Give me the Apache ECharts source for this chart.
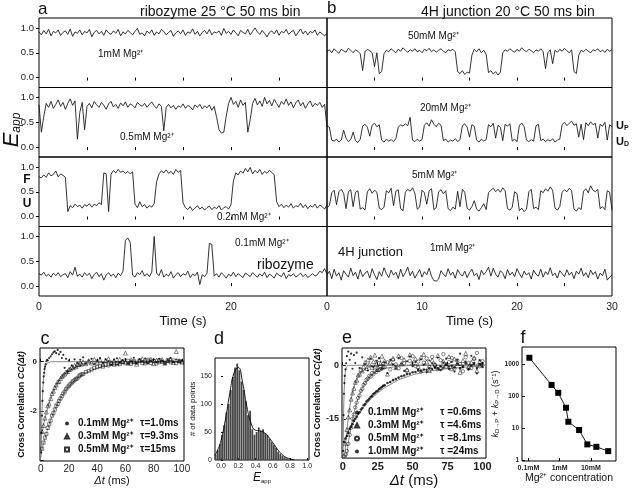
<!DOCTYPE html>
<html><head><meta charset="utf-8">
<script src="https://cdn.jsdelivr.net/npm/echarts@6/dist/echarts.min.js"></script>
<style>html,body{margin:0;padding:0;background:#fff}#c{width:632px;height:489px}</style>
</head><body><div id="c"></div>
<script>
const FONT = '"Liberation Sans", Arial, sans-serif';
const TRACE_DT = 0.25; // seconds per trace point

// ---- panel a: ribozyme traces (E_app) ----
const traceA_1mM = [0.92,0.86,0.95,0.88,0.97,0.84,0.93,0.90,0.96,0.85,0.91,0.94,0.87,0.98,0.83,0.92,0.89,0.96,0.86,0.93,
0.90,0.97,0.82,0.91,0.95,0.88,0.93,0.85,0.96,0.90,0.87,0.94,0.89,0.97,0.84,0.92,0.88,0.95,0.91,0.86,
0.93,0.99,0.87,0.90,0.84,0.94,0.89,0.96,0.85,0.92,0.88,0.97,0.93,0.86,0.91,0.95,0.83,0.90,0.94,0.88,
0.96,0.85,0.92,0.89,0.98,0.87,0.93,0.84,0.91,0.95,0.88,0.97,0.86,0.92,0.90,0.94,0.85,0.99,0.89,0.93,
0.87,0.96,0.90,0.84,0.95,0.91,0.88,0.97,0.86,0.93,1.00,0.92,0.87,0.95,0.89,0.82,0.91,0.94,0.88,0.96,
0.85,0.93,0.90,0.97,0.87,0.92,0.95,0.84,0.91,0.98,0.88,0.94,0.86,0.93,0.90,0.96,0.85,0.92,0.88,0.84,0.90];
const traceA_05mM = [0.85,0.30,0.62,0.88,0.80,0.92,0.78,0.86,0.95,0.82,0.90,0.76,0.88,0.97,0.84,0.93,0.16,0.70,0.90,0.35,
0.82,0.88,0.79,0.92,0.85,0.80,0.90,0.84,0.76,0.87,0.92,0.81,0.86,0.78,0.89,0.83,0.91,0.80,0.87,0.84,
0.79,0.90,0.85,0.82,0.88,0.80,0.86,0.91,0.83,0.78,0.87,0.82,0.33,0.80,0.86,0.79,0.84,0.76,0.83,0.80,
0.87,0.78,0.84,0.81,0.75,0.85,0.80,0.86,0.77,0.83,0.79,0.85,0.74,0.82,0.60,0.35,0.28,0.30,0.62,0.88,
1.00,0.86,0.92,0.80,0.95,0.84,0.90,0.30,0.55,0.88,0.98,0.85,0.93,0.82,1.00,0.87,0.94,0.83,0.96,0.88,
0.80,0.92,0.86,0.97,0.84,0.91,0.79,0.89,0.95,0.83,0.90,0.78,0.87,0.93,0.81,0.88,0.84,0.90,0.80,0.86,0.40];
const traceA_02mM = [0.80,0.78,0.84,0.79,0.88,0.82,0.85,0.92,0.80,0.86,0.83,0.79,0.10,0.22,0.18,0.25,0.20,0.23,0.17,0.24,
0.21,0.26,0.19,0.25,0.22,0.28,0.24,0.88,0.86,0.10,0.85,0.93,0.88,0.95,0.89,0.92,0.87,0.91,0.86,0.90,
0.25,0.18,0.30,0.20,0.24,0.17,0.22,0.19,0.26,0.70,0.86,0.92,0.88,0.94,0.87,0.91,0.85,0.95,0.89,0.93,
0.28,0.18,0.14,0.20,0.12,0.17,0.22,0.15,0.19,0.13,0.18,0.21,0.14,0.19,0.16,0.22,0.13,0.18,0.20,0.15,
0.24,0.72,0.88,0.84,0.92,0.87,0.97,0.90,0.99,0.86,0.93,0.88,0.95,0.85,0.91,0.87,0.93,0.89,0.84,0.30,
0.20,0.25,0.18,0.23,0.19,0.26,0.17,0.22,0.20,0.27,0.18,0.24,0.16,0.22,0.19,0.25,0.17,0.23,0.20,0.15,0.24];
const traceA_01mM = [0.25,0.22,0.28,0.20,0.24,0.18,0.26,0.21,0.27,0.19,0.23,0.25,0.17,0.29,0.22,0.38,0.20,0.24,0.18,0.27,
0.21,0.26,0.15,0.23,0.28,0.19,0.25,0.12,0.22,0.27,0.20,0.24,0.17,0.26,0.21,0.30,0.92,0.97,0.88,0.22,
0.18,0.27,0.23,0.31,0.20,0.25,0.19,0.28,1.00,0.26,0.21,0.33,0.18,0.24,0.20,0.29,0.16,0.23,0.27,0.19,
0.25,0.22,0.30,0.17,0.24,0.21,0.28,0.03,0.23,0.19,0.26,0.86,0.84,0.20,0.25,0.18,0.27,0.22,0.16,0.24,
0.20,0.28,0.19,0.25,0.21,0.17,0.26,0.23,0.19,0.27,0.22,0.18,0.25,0.20,0.28,0.17,0.24,0.21,0.16,0.26,
0.22,0.19,0.27,0.15,0.23,0.20,0.25,0.18,0.22,0.26,0.19,0.24,0.17,0.21,0.25,0.20,0.23,0.30,0.27,0.35,0.24];

// ---- panel b: 4H junction traces ----
const traceB_50mM = [0.52,0.56,0.50,0.58,0.53,0.49,0.57,0.54,0.51,0.59,0.55,0.50,0.56,0.53,0.48,
0.14,0.52,0.57,0.54,0.50,0.22,0.50,0.08,0.12,0.48,
0.55,0.52,0.58,0.54,0.50,0.57,0.53,0.60,0.55,0.51,0.56,0.53,0.58,0.52,0.55,0.50,0.57,0.54,0.59,0.52,0.56,0.51,0.55,0.58,0.53,0.50,0.56,0.54,0.57,0.52,
0.12,0.08,0.14,0.06,0.11,0.09,
0.45,0.57,0.52,0.58,0.50,0.55,0.47,
0.10,0.14,0.07,0.12,0.05,0.11,
0.50,0.56,0.53,0.58,0.54,0.51,0.57,0.53,0.60,0.55,0.52,0.57,0.54,0.50,0.56,0.53,0.58,0.52,
0.18,0.50,0.56,0.28,
0.55,0.51,0.57,0.53,0.59,0.54,0.50,0.56,
0.12,0.08,
0.45,0.55,0.52,0.57,0.53,0.50,0.56,0.54,0.58,0.52,0.55,0.51,0.57,0.53,0.56];
const traceB_20mM = [0.42,0.40,0.14,
0.12,0.16,0.10,0.14,0.34,0.18,0.11,0.15,0.30,0.13,0.09,0.16,
0.42,0.46,0.40,0.22,0.44,0.48,0.41,0.45,
0.14,0.10,0.16,0.12,0.15,0.11,0.17,
0.40,0.45,0.42,0.47,0.43,0.60,
0.14,0.11,0.16,0.12,0.15,
0.44,0.49,0.42,0.55,0.46,0.41,0.48,0.44,
0.13,0.16,0.10,0.14,0.12,0.17,0.11,0.15,
0.43,0.47,0.40,0.20,0.45,0.42,
0.14,0.10,0.16,0.12,0.15,
0.45,0.41,0.48,0.18,0.44,0.40,
0.13,0.46,0.42,0.47,0.12,0.16,0.11,0.44,0.48,0.41,
0.14,0.11,0.15,0.12,0.43,0.46,
0.13,0.16,0.11,0.15,0.12,0.17,0.10,0.14,0.16,
0.45,0.50,0.43,0.48,0.52,0.44,0.47,0.20,0.46,0.15,0.49,0.43,0.51,0.45,0.48,0.18,0.46,0.42,0.50,
0.14,0.45,0.41];
const traceB_5mM = [0.18,0.22,
0.48,0.53,0.24,0.50,0.55,0.47,0.16,
0.50,0.54,0.20,0.49,0.52,0.15,0.18,0.13,
0.50,0.56,0.47,0.53,0.49,0.17,0.14,0.19,
0.52,0.48,0.57,0.22,0.51,0.54,0.16,0.12,
0.49,0.55,0.51,0.58,0.47,0.15,0.19,
0.53,0.48,0.25,0.52,0.56,0.14,0.18,
0.50,0.54,0.46,0.52,0.16,0.12,0.19,0.15,
0.51,0.20,0.55,0.49,
0.17,0.13,0.20,0.32,0.15,0.11,0.18,0.26,0.14,
0.48,0.53,0.57,0.50,0.55,0.49,0.58,0.52,
0.16,0.13,0.19,0.50,0.46,0.12,0.17,0.10,0.15,
0.50,0.55,0.16,0.19,0.14,
0.52,0.48,0.56,0.51,0.60,0.53,0.17,0.13,0.20,
0.49,0.54,0.50,0.57,0.52,0.15,0.11,0.18,0.14,
0.51,0.56,0.48,0.62,0.53,0.50,0.55,0.16,0.20,0.14,
0.52,0.49,0.13];
const traceB_1mM = [0.22,0.30,0.15,0.34,0.20,0.27,0.12,0.31,0.24,0.18,0.36,0.21,0.28,0.14,0.33,0.19,0.26,0.30,0.16,0.35,
0.23,0.13,0.29,0.20,0.37,0.25,0.17,0.32,0.22,0.28,0.15,0.34,0.19,0.27,0.38,0.21,0.30,0.16,0.25,0.33,
0.18,0.29,0.23,0.36,0.20,0.11,0.10,0.14,0.31,0.24,0.19,0.35,0.22,0.28,0.16,0.33,0.25,0.20,0.30,0.17,
0.27,0.34,0.21,0.26,0.13,0.32,0.23,0.29,0.38,0.20,0.36,0.24,0.18,0.31,0.26,0.15,0.33,0.22,0.28,0.19,
0.35,0.25,0.17,0.30,0.22,0.27,0.14,0.32,0.24,0.20,0.34,0.18,0.29,0.23,0.37,0.21,0.26,0.16,0.31,0.25,
0.19,0.33,0.22,0.28,0.15,0.30,0.24,0.36,0.20,0.27,0.17,0.32,0.23,0.29,0.14,0.26,0.21,0.34,0.12,0.18,0.22];

// ---- panel c: cross-correlation, ribozyme ----
const lagC01 = [0.3,0.6,0.9,1.2,1.5,1.8,2.1,2.4,2.7,3,3.5,4,4.5,5,6,7,8,9,10,11,12,13,14,15,16,17,18,19,20,22,24,26,28,30,32,34,36,38,40,42,44,46,48,50,52,54,56,58,60,62,64,66,68,70,72,74,76,78,80,82,84,86,88,90,92,94,96,98,100];
const ccC01 = [-3.7,-2.9,-2.2,-1.6,-1.2,-0.85,-0.6,-0.45,-0.3,-0.2,-0.1,0.02,0.08,0.05,0.15,0.22,0.3,0.38,0.42,0.35,0.48,0.3,0.4,0.15,0.28,-0.25,0.12,-0.4,0.05,
-0.15,0.1,-0.05,0.08,0.18,-0.08,0.05,0.12,-0.1,0.06,0.15,-0.05,0.1,0.02,-0.12,0.08,0.14,-0.04,0.06,0.11,-0.09,0.03,0.16,-0.06,0.09,0.02,0.13,-0.07,0.05,0.1,-0.03,0.12,0.04,-0.08,0.07,0.15,-0.02,0.09,0.03,0.06];
const lagGrid = [1,2,3,4,5,6,7,8,9,10,11,12,13,14,15,16,17,18,19,20,21,22,23,24,25,26,27,28,29,30,32,34,36,38,40,42,44,46,48,50,52,54,56,58,60,62,64,66,68,70,72,74,76,78,80,82,84,86,88,90,92,94,96,98,100];
const ccC03 = [-2.85,-2.6,-2.3,-2.05,-1.8,-1.72,-1.5,-1.3,-1.2,-1.05,-0.95,-0.82,-0.8,-0.68,-0.6,-0.55,-0.5,-0.42,-0.4,-0.32,-0.3,-0.22,-0.25,-0.15,-0.2,-0.1,-0.12,-0.05,-0.1,0.0,
-0.08,0.05,-0.05,0.1,-0.02,0.08,-0.1,0.05,0.12,-0.04,0.06,-0.08,0.1,0.02,0.35,-0.06,0.08,0.0,-0.1,0.07,0.12,-0.05,0.04,0.1,-0.08,0.06,0.0,0.09,-0.06,0.05,0.11,-0.03,0.42,0.04,-0.02];
const ccC05 = [-3.55,-3.3,-3.1,-2.95,-2.7,-2.55,-2.4,-2.2,-2.1,-1.95,-1.8,-1.72,-1.6,-1.5,-1.4,-1.3,-1.22,-1.12,-1.05,-0.98,-0.92,-0.85,-0.8,-0.75,-0.7,-0.68,-0.6,-0.55,-0.52,-0.5,
-0.42,-0.38,-0.32,-0.25,-0.22,-0.18,-0.2,-0.12,-0.15,-0.08,-0.12,-0.05,-0.1,0.0,-0.06,0.04,-0.08,0.02,-0.04,0.05,-0.06,0.0,0.08,-0.05,0.03,-0.07,0.06,0.0,-0.04,0.07,-0.02,0.05,-0.06,0.03,0.0];
const fitC01T = [0.25,0.5,1,1.5,2,3,4,5,7,100];
const fitC01V = [-3.9,-3.03,-1.84,-1.12,-0.68,-0.25,-0.09,-0.03,0,0];
const fitC03T = [0,2,4,6,8,10,12,14,16,18,20,25,30,35,40,50,60,100];
const fitC03V = [-3.2,-2.58,-2.08,-1.68,-1.35,-1.09,-0.88,-0.71,-0.57,-0.46,-0.37,-0.22,-0.13,-0.07,-0.04,-0.015,0,0];
const fitC05T = [0,2,4,6,8,10,12,14,16,18,20,25,30,35,40,45,50,60,70,80,100];
const fitC05V = [-3.8,-3.33,-2.92,-2.55,-2.23,-1.95,-1.71,-1.49,-1.31,-1.14,-1.0,-0.72,-0.51,-0.37,-0.26,-0.19,-0.14,-0.07,-0.04,-0.02,-0.005];

// ---- panel d: E_app histogram ----
const histE = [-0.0625,-0.0375,-0.0125,0.0125,0.0375,0.0625,0.0875,0.1125,0.1375,0.1625,0.1875,0.2125,0.2375,0.2625,0.2875,0.3125,0.3375,0.3625,0.3875,0.4125,0.4375,0.4625,0.4875,0.5125,0.5375,0.5625,0.5875,0.6125,0.6375,0.6625,0.6875,0.7125,0.7375,0.7625,0.7875];
const histN = [10,18,28,45,62,85,100,125,148,165,172,160,140,125,105,80,88,55,45,50,58,52,55,48,45,38,32,27,22,15,11,8,5,3,1];
const fitDE = [-0.075,-0.05,0,0.05,0.1,0.15,0.2,0.25,0.3,0.35,0.4,0.45,0.5,0.55,0.6,0.65,0.7,0.75,0.8,0.85];
const fitDN = [8,14,35,72,118,155,165,138,95,65,53,52,49,41,31,20,11,5,2,0];

// ---- panel e: cross-correlation, 4H junction ----
const lagE01 = [0.3,0.6,0.9,1.2,1.5,2,2.5,3,4,5,6,7,8,9,10,12,14,16,18,20,22,24,26,28,30,32,34,36,38,40,42,44,46,48,50,52,54,56,58,60,62,64,66,68,70,72,74,76,78,80,82,84,86,88,90,92,94,96,98,100];
const ccE01 = [-24,-14,-8,-5,-3,-1.2,0.5,2.5,3.8,1.5,3.2,-1,2.8,0.6,3.5,
-0.8,2.2,0.3,-1.5,1.8,-0.5,1.2,2.0,-1.0,0.8,-2.2,1.5,0.2,-0.9,1.9,0.4,-1.6,1.1,2.4,-0.3,0.9,-1.2,1.6,0.1,-2.0,1.3,0.5,-0.7,2.1,-1.4,0.7,1.8,-0.4,0.9,-1.8,1.5,3.2,-0.6,1.0,-1.1,2.6,0.3,-2.3,1.4,0.2];
const ccE03 = [-27,-22,-18,-14.5,-12.5,-9.5,-7.8,-6.5,-4.8,-4.2,-2.8,-2.5,-1.2,-1.6,-0.4,0.8,-0.9,1.5,0.2,2.2,-0.6,1.0,2.8,0.3,-1.2,1.6,0.5,2.5,-0.3,1.2,
-2.5,0.8,1.9,-0.7,2.6,0.4,1.5,-1.3,2.9,0.6,1.8,-0.4,2.2,3.0,0.9,-1.5,1.4,0.2,2.7,-0.8,1.1,0.3,2.4,-1.0,1.7,0.5,-2.0,1.3,3.3,-0.5,0.8,2.0,-1.6,1.0,0.4];
const ccE05 = [-25.5,-25,-24,-22,-19.5,-17.5,-15,-13.8,-11.8,-10.5,-9.2,-8.5,-7.2,-6.6,-5.5,-5.0,-4.1,-3.8,-3.0,-3.2,-2.2,-2.5,-1.5,-1.9,-0.8,-1.4,-0.3,-1.0,0.4,-0.6,
0.8,-1.2,1.5,0.2,-0.9,2.0,0.5,-1.5,1.2,2.5,-0.2,1.0,-1.8,0.7,1.9,-0.6,2.3,0.1,-1.1,1.4,3.1,-0.4,0.9,2.0,-0.9,1.3,0.3,-1.7,2.2,0.6,-0.8,1.8,3.4,-0.3,1.1];
const ccE10 = [-21.5,-20.5,-19.8,-18.9,-17.8,-17.2,-16.5,-15.6,-15.0,-14.4,-13.6,-13.2,-12.4,-12.0,-11.2,-10.9,-10.2,-9.8,-9.4,-8.9,-8.6,-8.1,-7.8,-7.4,-7.2,-6.7,-6.5,-6.1,-5.8,-5.6,
-5.0,-4.7,-4.2,-3.9,-3.5,-3.1,-2.9,-2.5,-2.4,-2.0,-1.9,-1.5,-1.6,-1.2,-1.3,-0.8,-1.1,-0.6,-0.9,-0.3,-0.7,0.2,-1.0,-0.2,-0.6,0.4,-0.9,-0.3,0.5,-1.2,-0.1,0.6,-0.8,0.3,-0.5];
const fitE01T = [0.2,0.4,0.6,0.8,1,1.5,2,2.5,3,4,5,100];
const fitE01V = [-28.7,-20.5,-14.7,-10.5,-7.6,-3.3,-1.4,-0.6,-0.27,-0.05,0,0];
const fitE03T = [0.5,1,2,3,4,5,6,8,10,12,15,20,25,30,100];
const fitE03V = [-31.4,-28.2,-22.7,-18.3,-14.7,-11.8,-9.5,-6.2,-4.0,-2.6,-1.35,-0.45,-0.15,-0.05,0];
const fitE05T = [1,2,3,4,5,6,8,10,12,14,16,20,25,30,40,50,100];
const fitE05V = [-31.8,-28.1,-24.9,-21.9,-19.4,-17.1,-13.4,-10.5,-8.2,-6.4,-5.0,-3.0,-1.6,-0.9,-0.26,-0.07,0];
const fitE10T = [0,5,10,15,20,25,30,40,50,60,70,80,90,100];
const fitE10V = [-22,-17.8,-14.5,-11.8,-9.5,-7.8,-6.3,-4.1,-2.7,-1.8,-1.2,-0.8,-0.5,-0.3];

// ---- panel f: rate vs Mg2+ ----
const mgConc = [0.107,0.55,0.9,1.6,1.9,4.2,7.7,15,36];
const kSum = [1650,230,130,44,16,8.8,3.1,2.6,1.9];

// ---------- build ----------
const chart = echarts.init(document.getElementById('c'), null, {renderer: 'canvas'});
const grids = [], xAxes = [], yAxes = [], series = [];
function addGrid(g) {
  grids.push(Object.assign({show: true, borderColor: '#000', borderWidth: 1, backgroundColor: 'transparent'}, g));
  return grids.length - 1;
}
const noLine = {show: false};
const labelBase = {color: '#222', fontFamily: FONT};
const zip = (xs, ys) => xs.map((x, i) => [x, ys[i]]);
const lineS = (gi, data, extra) => Object.assign({type: 'line', xAxisIndex: gi, yAxisIndex: gi, data, showSymbol: false, symbol: 'none', silent: true,
  lineStyle: {width: 0.9, color: '#111'}}, extra || {});
const hollow = {color: 'rgba(255,255,255,0)', borderColor: '#000', borderWidth: 0.6};
const solid = {color: '#000'};
const scat = (name, gi, data, symbol, size, style) => ({type: 'scatter', name, xAxisIndex: gi, yAxisIndex: gi, data, symbol, symbolSize: size, itemStyle: style, silent: true, z: 3});

const rowTops = [18, 87.5, 157, 226.5], rowH = 69.5;
const aTraces = [traceA_1mM, traceA_05mM, traceA_02mM, traceA_01mM];
const bTraces = [traceB_50mM, traceB_20mM, traceB_5mM, traceB_1mM];
[aTraces, bTraces].forEach((traces, p) => {
  traces.forEach((tr, r) => {
    const gi = addGrid({left: p ? 327 : 39, top: rowTops[r], width: p ? 285 : 288, height: rowH});
    const bottom = r === 3;
    xAxes.push({gridIndex: gi, type: 'value', min: 0, max: 30, axisLine: noLine, splitLine: noLine,
      axisTick: {show: true, inside: bottom, length: 3, lineStyle: {color: '#000'},
        customValues: bottom ? (p ? [5, 10, 15, 20, 25] : [10, 20]) : [5, 10, 15, 20, 25]},
      axisLabel: Object.assign({show: bottom, customValues: p ? [0, 10, 20, 30] : [0, 20], fontSize: 10.5, margin: 6}, labelBase),
      name: bottom ? 'Time (s)' : '', nameLocation: 'middle', nameGap: 19,
      nameTextStyle: {fontSize: 13, color: '#111', fontFamily: FONT}});
    yAxes.push({gridIndex: gi, type: 'value', min: -0.2, max: 1.2, axisLine: noLine, splitLine: noLine,
      axisTick: {show: !p, inside: false, length: 3, lineStyle: {color: '#000'}, customValues: [0, 0.5, 1]},
      axisLabel: Object.assign({show: !p, customValues: [0, 0.5, 1], formatter: v => v.toFixed(1), fontSize: 9.5, margin: 5}, labelBase)});
    series.push(lineS(gi, tr.map((v, i) => [i * TRACE_DT, v]), {lineStyle: {width: 0.85, color: '#111'}}));
  });
});

// panel c
const gc = addGrid({left: 40, top: 348, width: 144, height: 113});
xAxes.push({gridIndex: gc, type: 'value', min: -0.5, max: 101.5, axisLine: noLine, splitLine: noLine,
  axisTick: {inside: true, length: 3, customValues: [0, 20, 40, 60, 80, 100], lineStyle: {color: '#000'}},
  axisLabel: Object.assign({customValues: [0, 20, 40, 60, 80, 100], fontSize: 10, margin: 3}, labelBase),
  name: '{i|Δt} (ms)', nameLocation: 'middle', nameGap: 14,
  nameTextStyle: {fontSize: 11, fontFamily: FONT, color: '#111', rich: {i: {fontSize: 11, fontStyle: 'italic', fontFamily: FONT}}}});
yAxes.push({gridIndex: gc, type: 'value', min: -4.05, max: 0.56, axisLine: noLine, splitLine: noLine,
  axisTick: {inside: true, length: 3, customValues: [0, -2, -4], lineStyle: {color: '#000'}},
  axisLabel: Object.assign({customValues: [0, -2], fontSize: 8, fontWeight: 'bold', margin: 3}, labelBase),
  name: '{b|Cross Correlation }{i|CC(Δt)}', nameLocation: 'middle', nameGap: 13,
  nameTextStyle: {fontSize: 9, fontFamily: FONT, color: '#111', rich: {b: {fontSize: 9, fontWeight: 'bold', fontFamily: FONT}, i: {fontSize: 9, fontWeight: 'bold', fontStyle: 'italic', fontFamily: FONT}}}});
const fitGray = {lineStyle: {width: 1, color: '#888'}, z: 1};
series.push(lineS(gc, zip(fitC01T, fitC01V), fitGray));
series.push(lineS(gc, zip(fitC03T, fitC03V), fitGray));
series.push(lineS(gc, zip(fitC05T, fitC05V), fitGray));
series.push(scat('c01', gc, zip(lagC01, ccC01), 'circle', 2.2, solid));
series.push(scat('c03', gc, zip(lagGrid, ccC03), 'triangle', 4, hollow));
series.push(scat('c05', gc, zip(lagGrid, ccC05), 'rect', 3.2, hollow));

// panel d
const gd = addGrid({left: 215, top: 358, width: 94, height: 102});
xAxes.push({gridIndex: gd, type: 'value', min: -0.07, max: 1.02, axisLine: noLine, splitLine: noLine,
  axisTick: {inside: true, length: 2, customValues: [0, 0.2, 0.4, 0.6, 0.8, 1.0], lineStyle: {color: '#000'}},
  axisLabel: Object.assign({customValues: [0, 0.2, 0.4, 0.6, 0.8, 1.0], formatter: v => v.toFixed(1), fontSize: 7, margin: 3}, labelBase),
  name: '{e|E}{s|app}', nameLocation: 'middle', nameGap: 12,
  nameTextStyle: {fontFamily: FONT, rich: {e: {fontSize: 12, fontStyle: 'italic', fontFamily: FONT, color: '#111'}, s: {fontSize: 6, fontFamily: FONT, color: '#111', verticalAlign: 'bottom', padding: [6, 0, 0, 0]}}}});
yAxes.push({gridIndex: gd, type: 'value', min: 0, max: 182, axisLine: noLine, splitLine: noLine,
  axisTick: {inside: true, length: 2, customValues: [0, 50, 100, 150], lineStyle: {color: '#000'}},
  axisLabel: Object.assign({customValues: [0, 50, 100, 150], fontSize: 7, margin: 3}, labelBase),
  name: '# of data points', nameLocation: 'middle', nameGap: 16,
  nameTextStyle: {fontSize: 8, fontFamily: FONT, color: '#111'}});
series.push({type: 'bar', xAxisIndex: gd, yAxisIndex: gd, data: zip(histE, histN), barWidth: 1.8, itemStyle: {color: '#444'}, silent: true});
series.push(lineS(gd, zip(fitDE, fitDN), {smooth: true, lineStyle: {width: 0.9, color: '#000'}, z: 3}));

// panel e
const ge = addGrid({left: 342, top: 348, width: 144, height: 112});
xAxes.push({gridIndex: ge, type: 'value', min: -0.5, max: 102.5, axisLine: noLine, splitLine: noLine,
  axisTick: {inside: true, length: 3, customValues: [0, 25, 50, 75, 100], lineStyle: {color: '#000'}},
  axisLabel: Object.assign({customValues: [0, 25, 50, 75, 100], fontSize: 11, fontWeight: 'bold', margin: 3}, labelBase),
  name: '{i|Δt} (ms)', nameLocation: 'middle', nameGap: 14,
  nameTextStyle: {fontSize: 15, fontFamily: FONT, color: '#111', rich: {i: {fontSize: 15, fontStyle: 'italic', fontFamily: FONT}}}});
yAxes.push({gridIndex: ge, type: 'value', min: -26, max: 4.8, axisLine: noLine, splitLine: noLine,
  axisTick: {inside: true, length: 3, customValues: [0, -15], lineStyle: {color: '#000'}},
  axisLabel: Object.assign({customValues: [0, -15], fontSize: 9, fontWeight: 'bold', margin: 3}, labelBase),
  name: '{b|Cross Correlation, }{i|CC(Δt)}', nameLocation: 'middle', nameGap: 13,
  nameTextStyle: {fontSize: 9, fontFamily: FONT, color: '#111', rich: {b: {fontSize: 9, fontWeight: 'bold', fontFamily: FONT}, i: {fontSize: 9, fontWeight: 'bold', fontStyle: 'italic', fontFamily: FONT}}}});
series.push(lineS(ge, zip(fitE01T, fitE01V), fitGray));
series.push(lineS(ge, zip(fitE03T, fitE03V), fitGray));
series.push(lineS(ge, zip(fitE05T, fitE05V), fitGray));
series.push(lineS(ge, zip(fitE10T, fitE10V), fitGray));
series.push(scat('e01', ge, zip(lagE01, ccE01), 'circle', 2.2, solid));
series.push(scat('e03', ge, zip(lagGrid, ccE03), 'triangle', 4, hollow));
series.push(scat('e05', ge, zip(lagGrid, ccE05), 'circle', 3.4, hollow));
series.push(scat('e10', ge, zip(lagGrid, ccE10), 'circle', 2.6, solid));

// panel f
const gf = addGrid({left: 522, top: 347, width: 94, height: 114});
xAxes.push({gridIndex: gf, type: 'log', logBase: 10, min: 0.062, max: 64, axisLine: noLine, splitLine: noLine,
  axisTick: {inside: true, length: 3, customValues: [0.1, 1, 10], lineStyle: {color: '#000'}},
  axisLabel: Object.assign({customValues: [0.1, 1, 10], formatter: v => (v < 0.5 ? '0.1mM' : v < 5 ? '1mM' : '10mM'), fontSize: 7, fontWeight: 'bold', margin: 4}, labelBase),
  name: 'Mg²⁺ concentration', nameLocation: 'middle', nameGap: 12,
  nameTextStyle: {fontSize: 10.5, fontFamily: FONT, color: '#111'}});
yAxes.push({gridIndex: gf, type: 'log', logBase: 10, min: 0.93, max: 3600, axisLine: noLine, splitLine: noLine,
  axisTick: {inside: true, length: 3, customValues: [1, 10, 100, 1000], lineStyle: {color: '#000'}},
  axisLabel: Object.assign({customValues: [1, 10, 100, 1000], formatter: v => String(Math.round(v)), fontSize: 6.5, fontWeight: 'bold', margin: 3}, labelBase),
  name: '{k|k}{s|D→P} + {k|k}{s|P→D} (s⁻¹)', nameLocation: 'middle', nameGap: 17,
  nameTextStyle: {fontSize: 9, fontFamily: FONT, color: '#111',
    rich: {k: {fontSize: 9, fontStyle: 'italic', fontFamily: FONT}, s: {fontSize: 6, fontFamily: FONT, verticalAlign: 'bottom', padding: [5, 0, 0, 0]}}}});
series.push(lineS(gf, zip(mgConc, kSum), {showSymbol: true, symbol: 'rect', symbolSize: 6, itemStyle: {color: '#000'}, lineStyle: {width: 0.9, color: '#000'}}));

// legends
const legendText = {
  c01: ['0.1mM Mg²⁺', 'τ=1.0ms'], c03: ['0.3mM Mg²⁺', 'τ=9.3ms'], c05: ['0.5mM Mg²⁺', 'τ=15ms'],
  e01: ['0.1mM Mg²⁺', 'τ =0.6ms'], e03: ['0.3mM Mg²⁺', 'τ =4.6ms'], e05: ['0.5mM Mg²⁺', 'τ =8.1ms'], e10: ['1.0mM Mg²⁺', 'τ =24ms']
};
function legendCfg(data, left, top, w) {
  return {data, left, top, orient: 'vertical', itemWidth: 4, itemHeight: 4, itemGap: 0, selectedMode: false, padding: 0,
    formatter: n => `{a|${legendText[n][0]}}{b|${legendText[n][1]}}`,
    textStyle: {fontFamily: FONT, fontSize: 10, fontWeight: 'bold', color: '#111', lineHeight: 13,
      rich: {a: {width: w, fontSize: 10, fontWeight: 'bold', fontFamily: FONT, padding: [0, 0, 0, 4]}, b: {fontSize: 10, fontWeight: 'bold', fontFamily: FONT}}}};
}

// text helper
function txt(text, x, y, o) {
  o = o || {};
  return {type: 'text', x, y, rotation: o.rot || 0, silent: true, z: 100,
    style: {text, fill: '#111', fontSize: o.size || 10, fontFamily: FONT, fontWeight: o.weight || 'normal', fontStyle: o.style || 'normal',
      align: o.align || 'left', verticalAlign: o.va || 'middle', rich: o.rich}};
}
const graphics = [
  txt('a', 38, 9, {size: 17}),
  txt('ribozyme 25 °C 50 ms bin', 140, 12, {size: 14}),
  txt('b', 327, 8, {size: 17}),
  txt('4H junction 20 °C 50 ms bin', 421, 12, {size: 14}),
  txt('1mM Mg²⁺', 98, 54, {size: 10}),
  txt('0.5mM Mg²⁺', 120, 137, {size: 10}),
  txt('0.2mM Mg²⁺', 217, 217, {size: 10}),
  txt('0.1mM Mg²⁺', 235, 243, {size: 10}),
  txt('ribozyme', 257, 265, {size: 14}),
  txt('50mM Mg²⁺', 408, 36, {size: 10}),
  txt('20mM Mg²⁺', 420, 108, {size: 10}),
  txt('5mM Mg²⁺', 412, 175, {size: 10}),
  txt('4H junction', 338, 252, {size: 13}),
  txt('1mM Mg²⁺', 430, 248, {size: 10}),
  txt('{u|U}{s|P}', 616, 126, {rich: {u: {fontSize: 11, fontWeight: 'bold', fontFamily: FONT}, s: {fontSize: 7, fontWeight: 'bold', fontFamily: FONT, verticalAlign: 'bottom', padding: [5, 0, 0, 0]}}}),
  txt('{u|U}{s|D}', 616, 142, {rich: {u: {fontSize: 11, fontWeight: 'bold', fontFamily: FONT}, s: {fontSize: 7, fontWeight: 'bold', fontFamily: FONT, verticalAlign: 'bottom', padding: [5, 0, 0, 0]}}}),
  txt('F', 27, 180, {size: 12, weight: 'bold', align: 'center'}),
  txt('U', 27, 204, {size: 12, weight: 'bold', align: 'center'}),
  txt('{e|E}{s|app}', 12, 130, {rot: Math.PI / 2, align: 'center', rich: {e: {fontSize: 22, fontStyle: 'italic', fontFamily: FONT}, s: {fontSize: 12, fontStyle: 'italic', fontFamily: FONT, verticalAlign: 'bottom', padding: [10, 0, 0, 0]}}}),
  txt('c', 45, 339, {size: 18, align: 'center'}),
  txt('d', 219, 339, {size: 18, align: 'center'}),
  txt('e', 347, 338, {size: 18, align: 'center'}),
  txt('f', 523, 338, {size: 18, align: 'center'})
];

chart.setOption({
  animation: false,
  backgroundColor: '#fff',
  grid: grids, xAxis: xAxes, yAxis: yAxes, series,
  legend: [legendCfg(['c01', 'c03', 'c05'], 64, 417, 62), legendCfg(['e01', 'e03', 'e05', 'e10'], 354, 406, 72)],
  graphic: graphics
});
</script></body></html>
